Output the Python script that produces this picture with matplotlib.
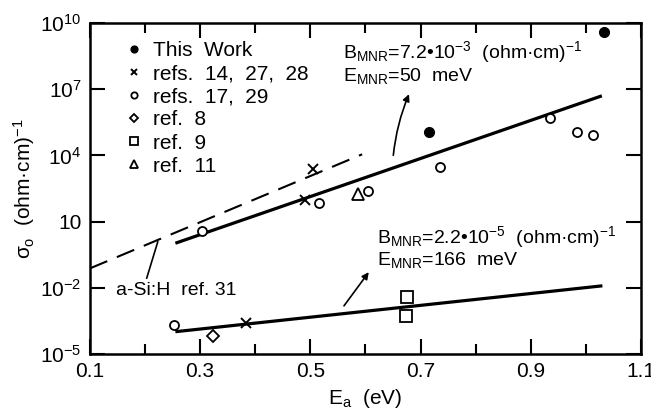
import matplotlib

matplotlib.use("Agg")
import matplotlib.pyplot as plt
import numpy as np

plt.rcParams["font.family"] = ["Liberation Sans", "DejaVu Sans"]
plt.rcParams["mathtext.fontset"] = "custom"
plt.rcParams["mathtext.rm"] = "Liberation Sans"
plt.rcParams["mathtext.it"] = "Liberation Sans"

# data (Ea in eV, log10 sigma0)
this_work_x = [0.715, 1.032]
this_work_y = [5.05, 9.58]
refs_14_27_28_x = [0.384, 0.491, 0.504]
refs_14_27_28_y = [-3.61, 1.98, 3.38]
refs_17_29_x = [0.253, 0.304, 0.515, 0.605, 0.735, 0.935, 0.983, 1.013]
refs_17_29_y = [-3.69, 0.57, 1.83, 2.40, 3.49, 5.71, 5.05, 4.92]
ref_8_x = [0.323]
ref_8_y = [-4.18]
ref_9_x = [0.675, 0.674]
ref_9_y = [-2.43, -3.28]
ref_11_x = [0.587]
ref_11_y = [2.27]

# fitted lines (endpoints)
upper_fit_x = [0.255, 1.029]
upper_fit_y = [0.02, 6.70]
lower_fit_x = [0.255, 1.030]
lower_fit_y = [-3.99, -1.91]
asih_x = [0.10, 0.594]
asih_y = [-1.12, 4.05]

ytick_pos = [-5, -2, 1, 4, 7, 10]
ytick_labels = ["10$^{-5}$", "10$^{-2}$", "10", "10$^4$", "10$^7$", "10$^{10}$"]
xtick_pos = [0.1, 0.3, 0.5, 0.7, 0.9, 1.1]


def p10(v):
    return np.power(10.0, v)


fig = plt.figure(figsize=(6.51, 4.17), dpi=100)
ax = fig.add_axes([0.1382, 0.1511, 0.8464, 0.7937])
ax.set_yscale("log")
ax.set_xlim(0.1, 1.1)
ax.set_ylim(1e-5, 1e10)

# lines
ax.plot(upper_fit_x, p10(upper_fit_y), color="black", lw=2.3, solid_capstyle="butt")
ax.plot(lower_fit_x, p10(lower_fit_y), color="black", lw=2.3, solid_capstyle="butt")
ax.plot(asih_x, p10(asih_y), color="black", lw=1.5, dashes=(9, 5))

# points
h1, = ax.plot(this_work_x, p10(this_work_y), "o", color="black", ms=7, ls="none",
              label="This  Work")
h2, = ax.plot(refs_14_27_28_x, p10(refs_14_27_28_y), "x", color="black", ms=7, mew=1.4,
              ls="none", label="refs.  14,  27,  28")
h3, = ax.plot(refs_17_29_x, p10(refs_17_29_y), "o", mfc="white", mec="black", ms=6.5,
              mew=1.3, ls="none", label="refs.  17,  29")
h4, = ax.plot(ref_8_x, p10(ref_8_y), "D", mfc="white", mec="black", ms=6, mew=1.3,
              ls="none", label="ref.  8")
h5, = ax.plot(ref_9_x, p10(ref_9_y), "s", mfc="white", mec="black", ms=8, mew=1.3,
              ls="none", label="ref.  9")
h6, = ax.plot(ref_11_x, p10(ref_11_y), "^", mfc="white", mec="black", ms=9, mew=1.3,
              ls="none", label="ref.  11")

leg = ax.legend(handles=[h1, h2, h3, h4, h5, h6], loc="upper left",
                bbox_to_anchor=(0.04, 0.99), frameon=False, fontsize=15,
                handlelength=0.7, handletextpad=0.55, labelspacing=0.2,
                borderpad=0.2, markerscale=0.7)

# annotations
ann_fs = 14
ax.text(0.56, p10(8.68), "B$_{\\rm MNR}$=7.2\u202210$^{-3}$  (ohm\u00b7cm)$^{-1}$",
        fontsize=ann_fs, va="center", ha="left")
ax.text(0.56, p10(7.62), "E$_{\\rm MNR}$=50  meV", fontsize=ann_fs, va="center", ha="left")
ax.annotate("", xy=(0.681, p10(6.89)), xytext=(0.650, p10(3.88)),
            arrowprops=dict(arrowstyle="-|>", color="black", lw=1.2,
                            connectionstyle="arc3,rad=-0.08", mutation_scale=10))

ax.text(0.621, p10(0.31), "B$_{\\rm MNR}$=2.2\u202210$^{-5}$  (ohm\u00b7cm)$^{-1}$",
        fontsize=ann_fs, va="center", ha="left")
ax.text(0.621, p10(-0.74), "E$_{\\rm MNR}$=166  meV", fontsize=ann_fs, va="center", ha="left")
ax.annotate("", xy=(0.609, p10(-1.19)), xytext=(0.558, p10(-2.92)),
            arrowprops=dict(arrowstyle="-|>", color="black", lw=1.2, mutation_scale=10))

ax.text(0.147, p10(-2.1), "a-Si:H  ref. 31", fontsize=ann_fs, va="center", ha="left")
ax.plot([0.203, 0.223], [p10(-1.56), p10(0.08)], color="black", lw=1.2)

# axes styling
for s in ax.spines.values():
    s.set_linewidth(1.8)
ax.set_xticks(xtick_pos)
ax.set_xticklabels([f"{v:.1f}" for v in xtick_pos])
ax.set_xticks(np.arange(0.2, 1.1, 0.2), minor=True)
ax.set_yticks(p10(np.array(ytick_pos, dtype=float)))
ax.set_yticklabels(ytick_labels)
ax.yaxis.set_minor_locator(matplotlib.ticker.NullLocator())
ax.tick_params(axis="both", which="major", direction="in", length=11, width=1.5,
               labelsize=15, top=True, right=True, pad=6)
ax.tick_params(axis="x", which="minor", direction="in", length=7, width=1.5, top=True)

ax.set_xlabel("E$_{\\rm a}$  (eV)", fontsize=15, labelpad=4)
ax.set_ylabel("$\\sigma_{\\rm o}$  (ohm\u00b7cm)$^{-1}$", fontsize=15, labelpad=2)

fig.savefig("out.png", dpi=100)
plt.close(fig)
